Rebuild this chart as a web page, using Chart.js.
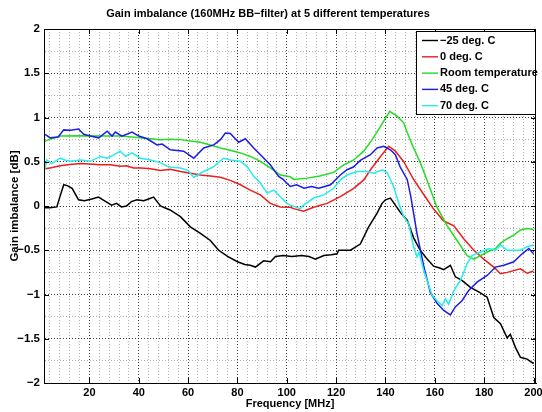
<!DOCTYPE html>
<html>
<head>
<meta charset="utf-8">
<script src="https://cdn.jsdelivr.net/npm/chart.js@4/dist/chart.umd.min.js"></script>
<style>
  html, body { margin: 0; padding: 0; background: #fff; }
</style>
</head>
<body>
<canvas id="myChart" width="542" height="412"></canvas>
<script>
// series labels / colours (matlab k, r, g, b, c)
var seriesNames = ['\u221225 deg. C', '0 deg. C', 'Room temperature', '45 deg. C', '70 deg. C']
var seriesColors = ['#000000', '#ee1c1c', '#22dd22', '#1c1ce6', '#22eeee']

// [frequency MHz, gain imbalance dB]
var minus25 = [[2,-0.02],[4,-0.02],[6.8,-0.01],[8,0.1],[9.6,0.24],[11,0.23],[13,0.2],[15.6,0.07],[18,0.06],[21,0.08],[23.7,0.1],[26,0.06],[29,0.01],[31,0.03],[33,-0.01],[35,0],[37,0.05],[39.3,0.07],[42,0.06],[44,0.08],[46,0.1],[48.8,0],[50.5,-0.02],[52.7,-0.045],[56.9,-0.12],[60.9,-0.235],[65,-0.31],[69,-0.39],[72.4,-0.5],[76,-0.57],[80,-0.63],[83,-0.66],[85.2,-0.67],[87.3,-0.69],[90.6,-0.62],[93.4,-0.63],[95.4,-0.57],[98.6,-0.56],[102,-0.57],[106,-0.56],[109,-0.57],[111.6,-0.6],[115,-0.56],[118,-0.55],[120.4,-0.54],[121,-0.5],[125.8,-0.5],[129.8,-0.43],[131.9,-0.31],[133.2,-0.235],[136.6,-0.08],[138.6,0.03],[140,0.07],[142,0.09],[144,0.01],[146,-0.07],[147.4,-0.12],[148.8,-0.16],[151.4,-0.36],[154.1,-0.5],[156.9,-0.6],[159.5,-0.68],[162,-0.7],[163.6,-0.72],[166.3,-0.67],[168.3,-0.8],[171,-0.84],[174.4,-0.92],[177.8,-0.97],[181.2,-1.03],[183.9,-1.26],[186.6,-1.33],[189.3,-1.49],[190.6,-1.45],[192.7,-1.6],[194.7,-1.71],[197.4,-1.73],[200,-1.78]]
var zero = [[2,0.42],[4,0.43],[8.2,0.455],[12,0.47],[16.3,0.48],[20,0.475],[24.4,0.466],[28.5,0.466],[32.5,0.45],[35,0.455],[37.9,0.43],[41,0.43],[44.7,0.42],[48.8,0.4],[52.8,0.415],[56.9,0.39],[61,0.37],[65,0.35],[69,0.34],[73.1,0.325],[77.1,0.29],[81.2,0.24],[85.2,0.18],[89.3,0.125],[93.3,0.03],[97.4,-0.01],[101.4,-0.015],[102.8,-0.03],[106.8,-0.06],[110.9,-0.015],[116.3,0.03],[121.7,0.105],[127.1,0.2],[131.2,0.295],[133.9,0.41],[138,0.56],[141.3,0.675],[144,0.62],[147.4,0.5],[150,0.37],[151.4,0.3],[155.5,0.13],[159.5,-0.035],[163.6,-0.17],[167.7,-0.225],[171.7,-0.37],[175.8,-0.5],[179.8,-0.6],[183.9,-0.69],[186.6,-0.765],[189.3,-0.75],[192,-0.73],[194.7,-0.71],[197.4,-0.76],[200,-0.735]]
var room = [[2,0.73],[3.5,0.75],[8.2,0.79],[16.3,0.795],[24.4,0.79],[32.5,0.79],[40.6,0.77],[44.7,0.76],[48.8,0.75],[52.8,0.755],[56.9,0.75],[61,0.735],[65,0.72],[69,0.69],[73.1,0.655],[77,0.63],[81.2,0.6],[85.2,0.56],[89.3,0.505],[93.3,0.43],[97.4,0.35],[101.4,0.33],[102.8,0.3],[108.2,0.315],[113.4,0.34],[119,0.38],[123.1,0.465],[127.1,0.52],[131.2,0.62],[134.6,0.75],[138,0.9],[141.7,1.07],[144.7,1.015],[147.4,0.94],[148.8,0.83],[151,0.68],[154.1,0.49],[157,0.28],[160.8,-0.01],[164.9,-0.22],[169,-0.39],[173.1,-0.56],[175.8,-0.6],[178.5,-0.56],[181.2,-0.52],[184.6,-0.48],[186.6,-0.42],[189.3,-0.37],[192,-0.33],[194.7,-0.27],[197.4,-0.255],[200,-0.265]]
var plus45 = [[2,0.81],[4.2,0.77],[7.3,0.78],[9.6,0.86],[12.3,0.855],[15.6,0.87],[17.7,0.81],[20.4,0.79],[23.8,0.77],[27.2,0.845],[29.2,0.79],[30.5,0.835],[33.2,0.79],[37.3,0.835],[40,0.79],[43.4,0.76],[47.4,0.69],[49.5,0.7],[52.8,0.635],[58.2,0.62],[62.3,0.54],[66.3,0.655],[70.4,0.69],[73.1,0.75],[75.1,0.825],[77.1,0.82],[80.5,0.72],[83.2,0.76],[86.6,0.655],[90,0.56],[93.3,0.465],[96.7,0.335],[98.5,0.3],[101.4,0.22],[104,0.24],[107,0.2],[110,0.22],[113,0.2],[117.7,0.24],[121.7,0.35],[124.4,0.41],[127,0.44],[129.8,0.515],[133.9,0.58],[136.6,0.655],[139.3,0.675],[142,0.635],[144,0.58],[146,0.44],[148.8,0.3],[150.3,0.1],[152.7,-0.3],[155.5,-0.68],[158.2,-0.98],[160.9,-1.1],[163.6,-1.18],[166.3,-1.23],[168.3,-1.14],[171,-1.07],[173.7,-0.955],[177.1,-0.86],[181.2,-0.785],[184.6,-0.69],[188,-0.67],[192,-0.63],[195.4,-0.54],[198.1,-0.48],[200,-0.54]]
var plus70 = [[2,0.42],[2.7,0.52],[4.7,0.48],[8.2,0.54],[10,0.52],[12.3,0.505],[16.3,0.52],[20.4,0.505],[24.4,0.56],[27.2,0.54],[30,0.58],[32.5,0.62],[34.6,0.56],[37.3,0.6],[40.6,0.54],[44.7,0.52],[48.8,0.49],[51.5,0.45],[52.8,0.44],[56.9,0.43],[60,0.4],[62.3,0.325],[66.3,0.39],[70.4,0.445],[74.4,0.54],[77.1,0.52],[81.2,0.505],[83.9,0.445],[86.6,0.335],[89.3,0.26],[92,0.145],[94.7,0.18],[97.4,0.105],[100.1,0.03],[101.4,0.01],[105.5,-0.03],[106.8,0.01],[110.9,0.09],[115,0.125],[119,0.2],[121.7,0.295],[124.4,0.35],[128.5,0.39],[132.5,0.39],[135.2,0.37],[138.6,0.41],[140.6,0.38],[143.3,0.22],[145.4,0.03],[147.4,-0.12],[149.4,-0.2],[151.4,-0.46],[152.8,-0.575],[153.6,-0.52],[155.5,-0.73],[158.9,-1.01],[160.9,-1.07],[163,-1.125],[164.3,-1.05],[165.6,-1.11],[167.7,-0.955],[170.4,-0.84],[173.1,-0.65],[175.1,-0.56],[178.5,-0.52],[181.9,-0.48],[184.6,-0.5],[186.6,-0.44],[189.3,-0.5],[192,-0.5],[194.7,-0.5],[197.4,-0.46],[200,-0.44]]

var freqTicks = [20, 40, 60, 80, 100, 120, 140, 160, 180, 200]
var gainTicks = [-2, -1.5, -1, -0.5, 0, 0.5, 1, 1.5, 2]

var FONT = "'Liberation Sans', Arial, Helvetica, sans-serif"
var allSeries = [minus25, zero, room, plus45, plus70]

function isMajor(list, v) {
  return list.some(function (t) { return Math.abs(t - v) < 1e-6 })
}
function minus(s) { return String(s).replace('-', '\u2212') }

// box round the axes, inward ticks and the legend (matlab style)
var boxPlugin = {
  id: 'box',
  afterDraw: function (chart) {
    var c = chart.ctx, a = chart.chartArea, xs = chart.scales.x, ys = chart.scales.y
    c.save()
    c.strokeStyle = '#000'
    c.lineWidth = 1
    c.strokeRect(Math.round(a.left) + 0.5, Math.round(a.top) + 0.5,
      Math.round(a.right - a.left) - 1, Math.round(a.bottom - a.top))
    c.beginPath()
    freqTicks.forEach(function (v) {
      var px = Math.round(xs.getPixelForValue(v)) + 0.5
      c.moveTo(px, a.bottom); c.lineTo(px, a.bottom - 5)
      c.moveTo(px, a.top); c.lineTo(px, a.top + 5)
    })
    gainTicks.forEach(function (v) {
      var py = Math.round(ys.getPixelForValue(v)) + 0.5
      c.moveTo(a.left, py); c.lineTo(a.left + 5, py)
      c.moveTo(a.right, py); c.lineTo(a.right - 5, py)
    })
    c.stroke()

    // legend
    var lx = 416, ly = Math.round(a.top) + 2, lw = Math.round(a.right) - 1 - lx, lh = 83
    c.fillStyle = '#fff'
    c.fillRect(lx, ly, lw, lh)
    c.strokeRect(lx + 0.5, ly + 0.5, lw, lh)
    c.font = 'bold 11px ' + FONT
    c.textBaseline = 'middle'
    chart.data.datasets.forEach(function (ds, i) {
      var ry = ly + 9.5 + i * 16.3
      c.strokeStyle = ds.borderColor
      c.lineWidth = 1.4
      c.beginPath(); c.moveTo(lx + 6, ry); c.lineTo(lx + 22, ry); c.stroke()
      c.fillStyle = '#000'
      c.fillText(ds.label, lx + 24, ry)
    })
    c.restore()
  }
}

var ctx = document.getElementById('myChart').getContext('2d')
var myChart = new Chart(ctx, {
  type: 'line',
  data: {
    datasets: allSeries.map(function (s, i) {
      return {
        label: seriesNames[i],
        data: s.map(function (p) { return { x: p[0], y: p[1] } }),
        borderColor: seriesColors[i],
        borderWidth: 1.5,
        pointRadius: 0,
        fill: false,
        tension: 0,
        order: allSeries.length - i,
      }
    }),
  },
  options: {
    responsive: false,
    animation: false,
    devicePixelRatio: 1,
    layout: { padding: { left: 0, right: 6, top: 0, bottom: 0 } },
    plugins: {
      legend: { display: false },
      tooltip: { enabled: false },
      title: {
        display: true,
        text: 'Gain imbalance (160MHz BB\u2212filter) at 5 different temperatures',
        color: '#000',
        font: { family: FONT, size: 11, weight: 'bold' },
        padding: { top: 7, bottom: 8.8 },
      },
    },
    scales: {
      x: {
        type: 'linear',
        min: 1.6,
        max: 201,
        afterBuildTicks: function (s) {
          var t = []
          for (var v = 4; v <= 200; v += 4) t.push({ value: v })
          s.ticks = t
        },
        afterFit: function (s) { s.height = 29; s.paddingLeft = 0; s.paddingRight = 0 },
        grid: {
          drawTicks: false,
          lineWidth: 1,
          color: function (c) { return c.tick && isMajor(freqTicks, c.tick.value) ? 'rgba(0,0,0,0.75)' : 'rgba(0,0,0,0.3)' },
        },
        border: { color: '#000', dash: [1, 2] },
        ticks: {
          autoSkip: false, maxRotation: 0, padding: 3, color: '#000',
          font: { family: FONT, size: 11, weight: 'bold' },
          callback: function (v) { return isMajor(freqTicks, v) ? String(v) : '' },
        },
        title: {
          display: true, text: 'Frequency [MHz]', color: '#000',
          font: { family: FONT, size: 11, weight: 'bold' },
          padding: { top: 0, bottom: 1 },
        },
      },
      y: {
        min: -2,
        max: 2,
        afterBuildTicks: function (s) {
          var t = []
          for (var k = -8; k <= 8; k++) t.push({ value: k / 4 })
          s.ticks = t
        },
        afterFit: function (s) { s.width = 44; s.paddingTop = 0; s.paddingBottom = 0 },
        grid: {
          drawTicks: false,
          lineWidth: 1,
          color: function (c) { return c.tick && isMajor(gainTicks, c.tick.value) ? 'rgba(0,0,0,0.75)' : 'rgba(0,0,0,0.3)' },
        },
        border: { color: '#000', dash: [1, 2] },
        ticks: {
          autoSkip: false, padding: 4, color: '#000',
          font: { family: FONT, size: 11.5, weight: 'bold' },
          callback: function (v) { return isMajor(gainTicks, v) ? minus(v) : '' },
        },
        title: {
          display: true, text: 'Gain imbalance [dB]', color: '#000',
          font: { family: FONT, size: 11.5, weight: 'bold' },
          padding: { top: 8, bottom: 0 },
        },
      },
    },
  },
  plugins: [boxPlugin],
})
</script>
</body>
</html>
